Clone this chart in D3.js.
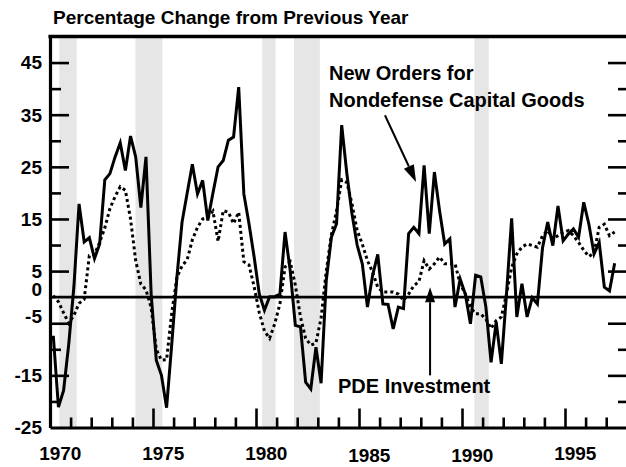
<!DOCTYPE html>
<html lang="en">
<head>
<meta charset="UTF-8">
<title>New Orders for Nondefense Capital Goods and PDE Investment</title>
<style>
  body { margin: 0; background: #fff; }
  svg text {
    font-family: "Liberation Sans", Arial, sans-serif;
    font-weight: bold;
    fill: #000;
  }
  .band { fill: #e6e6e6; }
  .orders { fill: none; stroke: #000; stroke-width: 3; stroke-linejoin: miter; }
  .pde { fill: none; stroke: #000; stroke-width: 3; stroke-dasharray: 3,3; }
  .axis .domain { stroke: #000; stroke-width: 3.2; }
  .axis line { stroke: #000; stroke-width: 2.6; }
  .frame, .zero { stroke: #000; }
  .pointer { stroke: #000; stroke-width: 2; }
</style>
</head>
<body>
<div id="chart"></div>
<script src="https://d3js.org/d3.v7.min.js"></script>
<script>
// quarterly, 1970Q1 - 1997Q2, percent change from a year earlier
var orders = [
  -7.4, -21.1, -17.9, -9, 2, 17.9, 10.6, 11.4, 7.4, 10.2,
  22.5, 23.7, 26.9, 29.6, 24.3, 30.9, 26.9, 17.2, 26.9, 0.6,
  -12.1, -15, -21.2, -9, 3.8, 14.4, 20, 25.5, 19.8, 22.4,
  14.7, 20, 25, 26.2, 30.1, 30.7, 40.3, 19.8, 14.1, 7.7,
  0.6, -2.5, 0.1, 0.1, 0.6, 12.5, 5.1, -5.4, -5.7, -16.3,
  -17.6, -9.6, -16.5, 3.2, 11.5, 14.1, 33, 23.7, 16, 10,
  6.4, -1.9, 4.2, 8.2, -1.3, -1.4, -6.1, -1.9, -2.2, 12.2,
  13.4, 12.2, 25.3, 12.2, 24, 16.6, 10.2, 11.2, -1.9, 3.5,
  0.6, -5.1, 4.2, 3.9, -1.9, -12.5, -4.8, -12.8, 0.6, 15.1,
  -3.8, 2.6, -3.8, -0.1, -1.3, 9.5, 14.4, 9.9, 17.5, 10.8,
  12.1, 13.1, 11.5, 18.2, 14, 8.3, 10.5, 1.9, 1.2, 6.5
];
var pde = [
  0.3, -0.9, -3, -5, -3.5, -1.2, -0.4, 8, 8.2, 10.5,
  13.3, 17, 19.3, 21.2, 20.5, 15, 7, 2.5, 1.4, -2,
  -10, -12.1, -12, -3, 3.8, 6, 7.2, 11, 13.4, 15,
  15.3, 16.5, 10.7, 16.6, 16.3, 14.1, 16.3, 6.8, 6.2, 2,
  -3, -6.5, -7.9, -5.1, -1.3, 5.8, 6.8, 2.3, -3.8, -7.9,
  -9.2, -8.8, -4, 5, 12, 16.5, 22.5, 22, 17.9, 12.8,
  10.2, 7, 4.8, 1.9, 1, 1, 1, 0.6, -0.6, 0.6,
  2.2, 3, 7, 5.4, 6.4, 7.7, 6.4, 6.4, 6.4, 2.6,
  0.6, -1.9, -3.2, -3.2, -4.2, -6, -4.5, -3.8, 0.6, 5.7,
  8.3, 9.6, 10.2, 9.9, 9.6, 11.8, 12.8, 11.2, 11.8, 12.4,
  12.8, 11.8, 10.5, 9, 7.8, 8.5, 13.4, 14, 11.8, 12.5
];
var recessions = [[1970.45, 1971.3], [1974.15, 1975.45], [1980.3, 1980.95], [1981.85, 1983.1], [1990.6, 1991.3]];
var yTickLabels = [45, 35, 25, 15, 5, 0, -5, -15, -25];
var xTickLabels = [1970, 1975, 1980, 1985, 1990, 1995];
var firstQuarter = 1970.16;

var width = 626;
var height = 467;

var x = d3.scaleLinear().domain([1970, 1998]).range([50, 626.8]);
var y = d3.scaleLinear().domain([-25, 50]).range([427.5, 36.5]);

var svg = d3.select('#chart')
  .append('svg')
  .attr('width', width)
  .attr('height', height);

// recession shading
svg.selectAll('.band')
  .data(recessions)
  .enter()
  .append('rect')
  .attr('class', 'band')
  .attr('x', function(d) { return x(d[0]); })
  .attr('width', function(d) { return x(d[1]) - x(d[0]); })
  .attr('y', y(50))
  .attr('height', y(-25) - y(50));

// zero line
svg.append('line')
  .attr('class', 'zero')
  .attr('x1', x(1970)).attr('x2', width)
  .attr('y1', y(0)).attr('y2', y(0))
  .attr('stroke-width', 2.6);

var line = d3.line()
  .x(function(d, i) { return x(firstQuarter + i / 4); })
  .y(function(d) { return y(d); });

svg.append('path').attr('class', 'pde').attr('d', line(pde));
svg.append('path').attr('class', 'orders').attr('d', line(orders));

// axes
var years = d3.range(1971, 1998);
var majorYears = years.filter(function(d) { return d % 5 === 0; });
var minorYears = years.filter(function(d) { return d % 5 !== 0; });

svg.append('g')
  .attr('class', 'axis')
  .attr('transform', 'translate(0,' + y(-25) + ')')
  .call(d3.axisBottom(x).tickValues(minorYears).tickSize(-10).tickSizeOuter(0).tickFormat(''));
svg.append('g')
  .attr('class', 'axis')
  .attr('transform', 'translate(0,' + y(-25) + ')')
  .call(d3.axisBottom(x).tickValues(majorYears).tickSize(-19).tickSizeOuter(0).tickFormat(''))
  .select('.domain').remove();

var majorVals = [45, 35, 25, 15, 5, -5, -15];
var minorVals = [40, 30, 20, 10, -10, -20];

svg.append('g')
  .attr('class', 'axis')
  .attr('transform', 'translate(' + x(1970) + ',0)')
  .call(d3.axisLeft(y).tickValues(minorVals).tickSize(-11).tickSizeOuter(0).tickFormat(''));
svg.append('g')
  .attr('class', 'axis')
  .attr('transform', 'translate(' + x(1970) + ',0)')
  .call(d3.axisLeft(y).tickValues(majorVals).tickSize(-19).tickSizeOuter(0).tickFormat(''))
  .select('.domain').remove();

svg.append('g')
  .attr('class', 'axis')
  .attr('transform', 'translate(' + width + ',0)')
  .call(d3.axisRight(y).tickValues(minorVals).tickSize(-8).tickSizeOuter(0).tickFormat(''))
  .select('.domain').remove();
svg.append('g')
  .attr('class', 'axis')
  .attr('transform', 'translate(' + width + ',0)')
  .call(d3.axisRight(y).tickValues(majorVals).tickSize(-18).tickSizeOuter(0).tickFormat(''))
  .select('.domain').remove();

// top border
svg.append('line')
  .attr('class', 'frame')
  .attr('x1', x(1970) - 1.6).attr('x2', width)
  .attr('y1', y(50)).attr('y2', y(50))
  .attr('stroke-width', 3.6);

// tick labels
var yLabelShift = { '0': -8, '-5': -7 };
svg.selectAll('.ylab')
  .data(yTickLabels)
  .enter()
  .append('text')
  .attr('class', 'ylab')
  .attr('x', 42)
  .attr('y', function(d) { return y(d) + (yLabelShift[d] || 0); })
  .attr('dy', '0.36em')
  .attr('text-anchor', 'end')
  .style('font-size', '19px')
  .text(function(d) { return d; });

var xLabelDrop = { 1985: 2, 1990: 2 };
svg.selectAll('.xlab')
  .data(xTickLabels)
  .enter()
  .append('text')
  .attr('class', 'xlab')
  .attr('x', function(d) { return x(d + 0.5); })
  .attr('y', function(d) { return 460 + (xLabelDrop[d] || 0); })
  .attr('text-anchor', 'middle')
  .style('font-size', '19px')
  .text(function(d) { return d; });

// title
svg.append('text')
  .attr('x', 53)
  .attr('y', 24)
  .style('font-size', '19px')
  .text('Percentage Change from Previous Year');

// annotations
svg.append('text').attr('x', 329).attr('y', 80).style('font-size', '20px').text('New Orders for');
svg.append('text').attr('x', 329).attr('y', 107).style('font-size', '20px').text('Nondefense Capital Goods');
svg.append('text').attr('x', 338).attr('y', 393).style('font-size', '20px').text('PDE Investment');

function arrow(x1, y1, x2, y2, headLen, headHalf) {
  var dx = x2 - x1, dy = y2 - y1;
  var len = Math.sqrt(dx * dx + dy * dy);
  var ux = dx / len, uy = dy / len;
  var bx = x2 - ux * headLen, by = y2 - uy * headLen;
  svg.append('line')
    .attr('class', 'pointer')
    .attr('x1', x1).attr('y1', y1)
    .attr('x2', bx).attr('y2', by);
  svg.append('path')
    .attr('d', 'M' + x2 + ',' + y2 +
      'L' + (bx - uy * headHalf) + ',' + (by + ux * headHalf) +
      'L' + (bx + uy * headHalf) + ',' + (by - ux * headHalf) + 'Z')
    .attr('fill', '#000');
}
arrow(x(1986.26), y(34.9), x(1987.77), y(22.1), 17, 5.5);
arrow(x(1988.45), y(-15), x(1988.45), y(1.9), 15, 5);
</script>
</body>
</html>
